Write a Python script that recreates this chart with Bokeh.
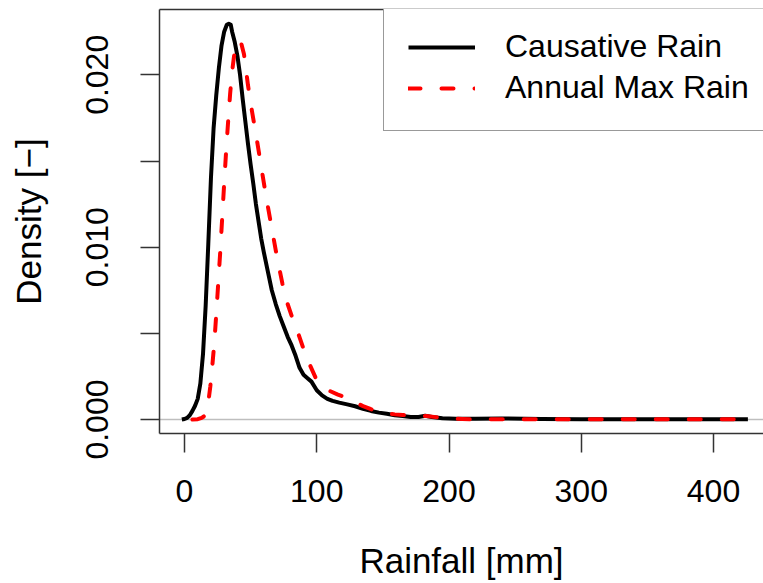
from bokeh.plotting import figure
from bokeh.models import Range1d, LinearAxis, FixedTicker, Span, Legend, LegendItem
from bokeh.embed import file_html
from bokeh.resources import INLINE

# ---- data ----
causative_x = [-2, 0, 2, 4, 6, 8, 10, 12, 14, 16, 18, 20, 22, 24, 26, 28, 30, 32, 33.5, 35,
               36, 38, 40, 42, 44, 46, 48, 50, 52, 54, 56, 58, 60, 63, 66, 69, 72, 75, 78,
               81, 84, 87, 90, 93, 96, 100, 104, 108, 112, 117, 123, 129, 135, 141, 147,
               153, 159, 165, 171, 177, 182, 187, 195, 205, 220, 240, 270, 300, 350, 400, 426]
causative_y = [0.0, 0.00003, 0.0001, 0.00025, 0.0005, 0.0008, 0.0012, 0.0021, 0.0038, 0.0066,
               0.0102, 0.0140, 0.0169, 0.0188, 0.0204, 0.0217, 0.0225, 0.0229, 0.02296, 0.0229,
               0.0225, 0.0219, 0.0211, 0.0200, 0.0186, 0.0173, 0.0160, 0.0148, 0.0137, 0.0125,
               0.0115, 0.0105, 0.0097, 0.0086, 0.0075, 0.0067, 0.0060, 0.0054, 0.0048,
               0.0043, 0.0037, 0.0030, 0.0026, 0.0024, 0.0022, 0.0017, 0.0014, 0.0012, 0.00108,
               0.00098, 0.00088, 0.00077, 0.00062, 0.0005, 0.0004,
               0.00033, 0.00025, 0.0002, 0.00015, 0.00015, 0.00022, 0.00015, 0.00007, 0.00004,
               0.00004, 0.00006, 0.00003, 0.00002, 0.00001, 0.00001, 0.00001]

annual_x = [6, 10, 13, 15, 16.5, 18, 19.5, 21, 22.5, 24, 25.5, 27, 28.5, 30, 31.5, 33, 34.5,
            36, 37.5, 39, 41, 43, 45, 48, 51, 55, 59, 62, 66, 70, 74, 78, 82, 86, 90, 94, 99,
            104, 110, 116, 123, 129, 135, 141, 147, 153, 159, 165, 171, 177, 183, 190, 200,
            210, 216, 230, 260, 300, 350, 400, 426]
annual_y = [0.0, 0.00002, 0.0001, 0.0002, 0.0004, 0.0010, 0.0019, 0.0031, 0.0044, 0.0061,
            0.0079, 0.0097, 0.0117, 0.0137, 0.0156, 0.0173, 0.0189, 0.0202, 0.0211, 0.0217,
            0.0220, 0.0218, 0.0212, 0.0194, 0.0179, 0.0161, 0.0142, 0.0128, 0.0111, 0.0094,
            0.0079, 0.0067, 0.0058, 0.0050, 0.0041, 0.0033, 0.00245, 0.00195, 0.00165,
            0.00145, 0.00125, 0.0010, 0.00078, 0.0006, 0.00045, 0.00036, 0.0003, 0.00026,
            0.00024, 0.00022, 0.0002, 0.00014, 0.00007, 0.00003, 0.00001, 0.00001, 0.00001,
            0.00001, 0.00001, 0.00001, 0.00001]

series_names = ["Causative Rain", "Annual Max Rain"]
x_ticks = [0, 100, 200, 300, 400]
y_ticks = [0.0, 0.005, 0.010, 0.015, 0.020]
y_tick_labels = {0.0: "0.000", 0.005: "", 0.010: "0.010", 0.015: "", 0.020: "0.020"}
x_title = "Rainfall [mm]"
y_title = "Density [\u2212]"

FONT = "Liberation Sans"
BOX = "#333333"

p = figure(width=763, height=583, output_backend="svg", toolbar_location=None,
           x_range=Range1d(-18.9, 437.8), y_range=Range1d(-0.00081, 0.02379),
           x_axis_type=None, y_axis_type=None,
           min_border_left=159, min_border_right=0, min_border_top=9, min_border_bottom=150)
p.outline_line_color = None
p.xgrid.visible = False
p.ygrid.visible = False
p.background_fill_color = "white"
p.border_fill_color = "white"

def style_axis(ax):
    ax.axis_line_color = BOX
    ax.axis_line_width = 1.5
    ax.major_tick_line_color = BOX
    ax.major_tick_line_width = 1.5
    ax.major_tick_in = 0
    ax.major_tick_out = 19
    ax.minor_tick_line_color = None
    ax.major_label_text_font = FONT
    ax.major_label_text_font_size = "32px"
    ax.major_label_text_color = "black"
    ax.axis_label_text_font = FONT
    ax.axis_label_text_font_size = "35px"
    ax.axis_label_text_font_style = "normal"
    ax.axis_label_text_color = "black"

xaxis = LinearAxis(ticker=FixedTicker(ticks=x_ticks), axis_label=x_title)
style_axis(xaxis)
xaxis.major_label_standoff = 27
xaxis.axis_label_standoff = 36
p.add_layout(xaxis, "below")

yaxis = LinearAxis(ticker=FixedTicker(ticks=y_ticks), axis_label=y_title)
style_axis(yaxis)
yaxis.major_label_overrides = y_tick_labels
yaxis.major_label_orientation = "vertical"
yaxis.major_label_standoff = 32
yaxis.axis_label_standoff = 36
p.add_layout(yaxis, "left")

top = LinearAxis(ticker=FixedTicker(ticks=[]))
top.axis_line_color = BOX
top.axis_line_width = 1.5
top.major_tick_out = 0
top.major_tick_in = 0
top.minor_tick_line_color = None
top.major_label_text_font_size = "0px"
p.add_layout(top, "above")

zero = Span(location=0, dimension="width", line_color="#BEBEBE", line_width=1.5, level="underlay")
p.add_layout(zero)

r1 = p.line(causative_x, causative_y, line_color="black", line_width=4, line_join="round")
r2 = p.line(annual_x, annual_y, line_color="#FF0000", line_width=4, line_dash="12 21",
            line_cap="round", line_join="round")

legend = Legend(items=[LegendItem(label=series_names[0], renderers=[r1]),
                       LegendItem(label=series_names[1], renderers=[r2])],
                location=(224, 302))
legend.label_text_font = FONT
legend.label_text_font_size = "32px"
legend.label_text_color = "black"
legend.label_standoff = 30
legend.glyph_width = 67
legend.glyph_height = 36
legend.label_height = 36
legend.label_width = 300
legend.spacing = 4
legend.padding = 24
legend.margin = 0
legend.border_line_color = BOX
legend.border_line_width = 1.5
legend.background_fill_color = "white"
legend.background_fill_alpha = 1.0
p.add_layout(legend, "center")

open("out.html", "w").write(file_html(p, INLINE))
